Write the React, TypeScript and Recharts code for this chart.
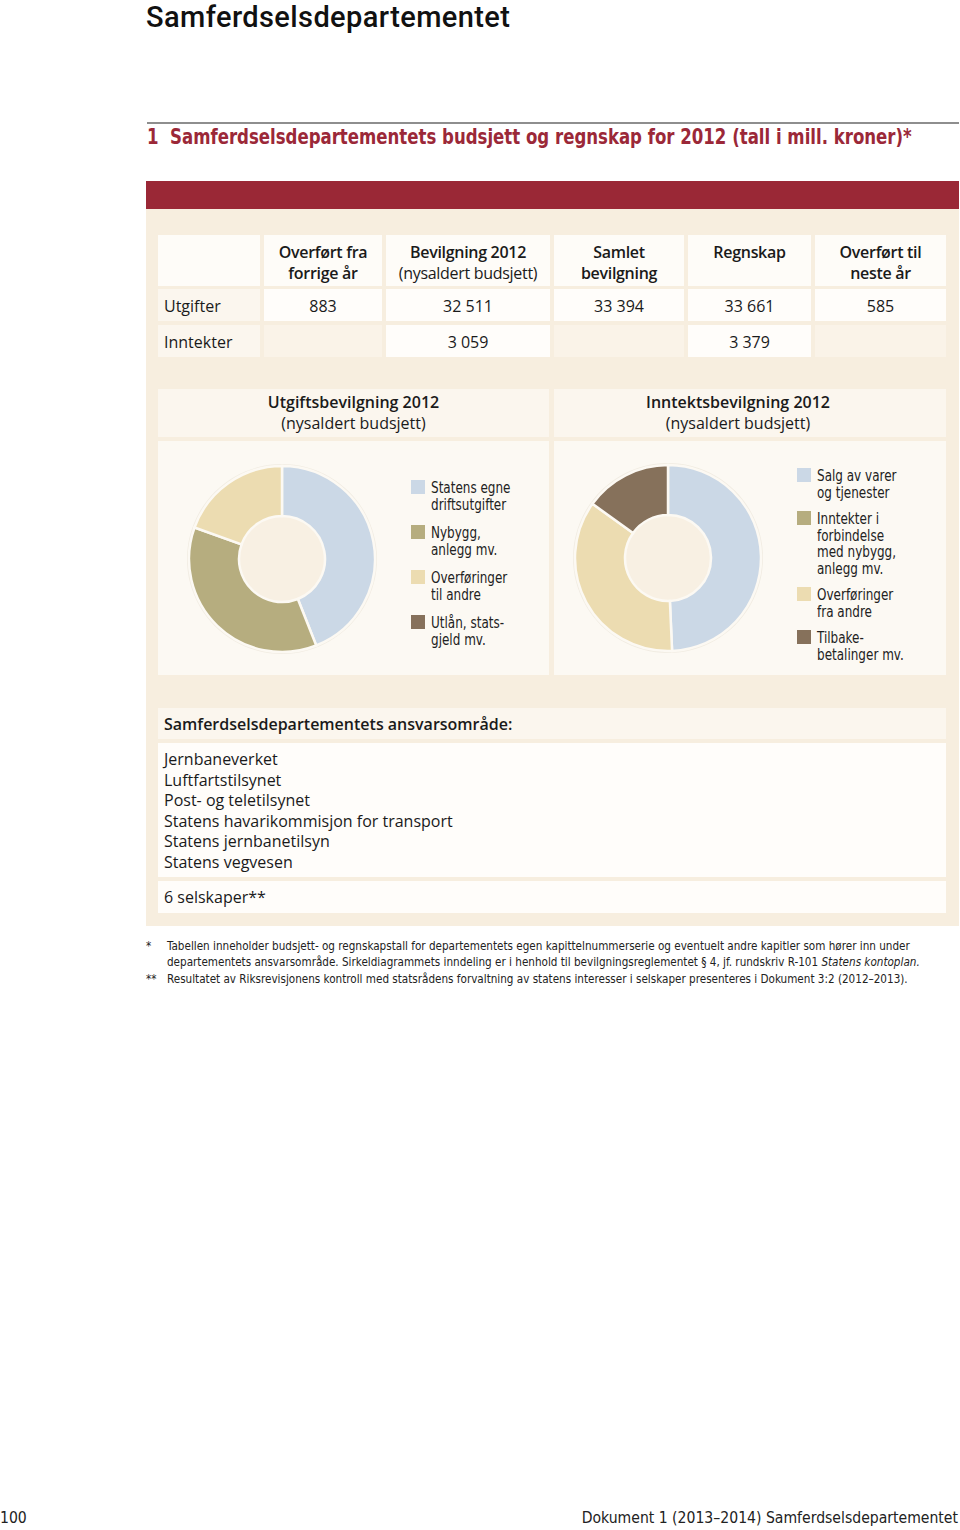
import React from "react";
import { PieChart, Pie, Cell } from "recharts";

const pageTitle = "Samferdselsdepartementet";
const tableTitle = "1  Samferdselsdepartementets budsjett og regnskap for 2012 (tall i mill. kroner)*";

const columnHeads = [
  ["Overført fra", "forrige år"],
  ["Bevilgning 2012", "(nysaldert budsjett)"],
  ["Samlet", "bevilgning"],
  ["Regnskap"],
  ["Overført til", "neste år"],
];
const rowLabels = ["Utgifter", "Inntekter"];
const utgifterRow = ["883", "32 511", "33 394", "33 661", "585"];
const inntekterRow = ["", "3 059", "", "3 379", ""];

const utgiftNames = ["Statens egne\ndriftsutgifter", "Nybygg,\nanlegg mv.", "Overføringer\ntil andre", "Utlån, stats-\ngjeld mv."];
const utgiftValues = [44.0, 36.5, 19.5, 0];
const inntektNames = ["Salg av varer\nog tjenester", "Inntekter i\nforbindelse\nmed nybygg,\nanlegg mv.", "Overføringer\nfra andre", "Tilbake-\nbetalinger mv."];
const inntektValues = [49.3, 0, 35.6, 15.1];
const sliceColors = ["#cbd8e6", "#b6ad7f", "#ecdcb1", "#86715b"];

const ansvarItems = [
  "Jernbaneverket",
  "Luftfartstilsynet",
  "Post- og teletilsynet",
  "Statens havarikommisjon for transport",
  "Statens jernbanetilsyn",
  "Statens vegvesen",
];
const selskaper = "6 selskaper**";

const footnotes = [
  ["*", "Tabellen inneholder budsjett- og regnskapstall for departementets egen kapittelnummerserie og eventuelt andre kapitler som hører inn under"],
  ["", "departementets ansvarsområde. Sirkeldiagrammets inndeling er i henhold til bevilgningsreglementet § 4, jf. rundskriv R-101 "],
  ["**", "Resultatet av Riksrevisjonens kontroll med statsrådens forvaltning av statens interesser i selskaper presenteres i Dokument 3:2 (2012–2013)."],
];

const NARROW = "'DejaVu Sans Condensed', 'Open Sans', sans-serif";
const MAIN = "'Open Sans', 'Noto Sans', sans-serif";

const Box = ({ x, y, w, h, bg, style, children }: any) => (
  <div style={{ position: "absolute", left: x, top: y, width: w, height: h, background: bg, boxSizing: "border-box", ...style }}>
    {children}
  </div>
);

const colX = [264, 386, 554, 688, 815];
const colW = [118, 164, 130, 123, 131];

const LegendBlock = ({ names, left, top, gap }: any) => (
  <div style={{ position: "absolute", left, top, fontFamily: NARROW, fontSize: 15, lineHeight: "16.5px", color: "#222" }}>
    {names.map((n: string, i: number) => (
      <div key={i} style={{ display: "flex", marginBottom: gap }}>
        <div style={{ width: 14, height: 14, background: sliceColors[i], marginTop: 0, marginRight: 6, flexShrink: 0 }} />
        <div style={{ whiteSpace: "pre", transform: "scaleX(0.89)", transformOrigin: "left top" }}>{n}</div>
      </div>
    ))}
  </div>
);

const Donut = ({ names, values, cx, cy }: any) => {
  const data = names.map((n: string, i: number) => ({ name: n, value: values[i] }));
  return (
    <div style={{ position: "absolute", left: 0, top: 0 }}>
      <PieChart width={260} height={234}>
        <Pie data={[{ name: "hole", value: 1 }]} dataKey="value" cx={cx} cy={cy} innerRadius={0} outerRadius={43} fill="#f8f0e3" stroke="none" isAnimationActive={false} />
        <Pie
          data={[{ name: "ring", value: 1 }]}
          dataKey="value"
          cx={cx}
          cy={cy}
          innerRadius={93}
          outerRadius={95}
          fill="#f1ece2"
          stroke="none"
          isAnimationActive={false}
        />
        <Pie
          data={data}
          dataKey="value"
          cx={cx}
          cy={cy}
          innerRadius={43}
          outerRadius={93}
          startAngle={90}
          endAngle={-270}
          stroke="#fcf9f3"
          strokeWidth={2.5}
          isAnimationActive={false}
        >
          {data.map((_: any, i: number) => (
            <Cell key={i} fill={sliceColors[i]} />
          ))}
        </Pie>
      </PieChart>
    </div>
  );
};

export default function App() {
  return (
    <div style={{ position: "absolute", left: 0, top: 0, width: 960, height: 1530, background: "#ffffff", fontFamily: MAIN, color: "#1a1a1a", overflow: "hidden" }}>
      <div style={{ position: "absolute", left: 146, top: 0, fontFamily: "Roboto, 'Open Sans', sans-serif", fontWeight: 500, fontSize: 29, lineHeight: "normal", letterSpacing: 0.4, color: "#111", whiteSpace: "nowrap" }}>{pageTitle}</div>
      <div style={{ position: "absolute", left: 147, top: 122, width: 812, height: 2, background: "#8e8e8e" }} />
      <div style={{ position: "absolute", left: 147, top: 125, fontFamily: NARROW, fontWeight: 700, fontSize: 21, color: "#9b2838", whiteSpace: "pre", transform: "scaleX(0.877)", transformOrigin: "left top" }}>{tableTitle}</div>
      <Box x={146} y={181} w={813} h={28} bg="#9a2836" />
      <Box x={146} y={209} w={813} h={717} bg="#f7eedf" />

      {/* table header row */}
      <Box x={158} y={235} w={102} h={51} bg="#fefcf8" />
      {columnHeads.map((lines, i) => (
        <Box key={i} x={colX[i]} y={235} w={colW[i]} h={51} bg="#fefcf8" style={{ textAlign: "center", fontSize: 16, lineHeight: "21px", paddingTop: 7 }}>
          {lines.map((l, j) => (
            <div key={j} style={{ fontWeight: i === 1 && j === 1 ? 400 : 600, whiteSpace: "nowrap", letterSpacing: -0.3 }}>{l}</div>
          ))}
        </Box>
      ))}
      {/* data rows */}
      {[utgifterRow, inntekterRow].map((row, r) => (
        <React.Fragment key={r}>
          <Box x={158} y={289 + r * 36} w={102} h={32} bg="#fbf6ee" style={{ fontSize: 16, paddingLeft: 6, lineHeight: "34px" }}>{rowLabels[r]}</Box>
          {row.map((v, i) => (
            <Box key={i} x={colX[i]} y={289 + r * 36} w={colW[i]} h={32} bg={v === "" ? "#faf3e8" : "#fffdfa"} style={{ fontSize: 16, textAlign: "center", lineHeight: "34px" }}>{v}</Box>
          ))}
        </React.Fragment>
      ))}

      {/* pie headers */}
      <Box x={158} y={389} w={391} h={48} bg="#fbf6ee" style={{ textAlign: "center", fontSize: 16, lineHeight: "21px", paddingTop: 3 }}>
        <div style={{ fontWeight: 600 }}>Utgiftsbevilgning 2012</div>
        <div>(nysaldert budsjett)</div>
      </Box>
      <Box x={554} y={389} w={392} h={48} bg="#fbf6ee" style={{ textAlign: "center", fontSize: 16, lineHeight: "21px", paddingTop: 3, paddingRight: 24 }}>
        <div style={{ fontWeight: 600 }}>Inntektsbevilgning 2012</div>
        <div>(nysaldert budsjett)</div>
      </Box>

      {/* pie bodies */}
      <Box x={158} y={441} w={391} h={234} bg="#fcf9f3">
        <Donut names={utgiftNames} values={utgiftValues} cx={119} cy={113} />
        <LegendBlock names={utgiftNames} left={253} top={39} gap={12} />
      </Box>
      <Box x={554} y={441} w={392} h={234} bg="#fcf9f3">
        <Donut names={inntektNames} values={inntektValues} cx={109} cy={112} />
        <LegendBlock names={inntektNames} left={243} top={27} gap={10} />
      </Box>

      {/* ansvarsområde */}
      <Box x={158} y={708} w={788} h={31} bg="#fbf6ee" style={{ fontSize: 16, fontWeight: 600, paddingLeft: 6, lineHeight: "32px" }}>Samferdselsdepartementets ansvarsområde:</Box>
      <Box x={158} y={743} w={788} h={134} bg="#fffdfa" style={{ fontSize: 16, paddingLeft: 6, paddingTop: 6, lineHeight: "20.6px" }}>
        {ansvarItems.map((a, i) => (
          <div key={i}>{a}</div>
        ))}
      </Box>
      <Box x={158} y={881} w={788} h={32} bg="#fffdfa" style={{ fontSize: 16, paddingLeft: 6, lineHeight: "33px" }}>{selskaper}</Box>

      {/* footnotes */}
      <div style={{ position: "absolute", left: 146, top: 939, width: 810, fontFamily: NARROW, fontSize: 11.6, lineHeight: "15.5px", color: "#222" }}>
        {footnotes.map(([m, t], i) => (
          <div key={i} style={{ display: "flex", marginTop: i === 2 ? 2 : 0 }}>
            <div style={{ width: 21, flexShrink: 0 }}>{m}</div>
            <div style={{ whiteSpace: "nowrap" }}>
              {t}
              {i === 1 ? <i>Statens kontoplan.</i> : null}
            </div>
          </div>
        ))}
      </div>

      {/* footer */}
      <div style={{ position: "absolute", left: 0, top: 1509, fontFamily: NARROW, fontSize: 15.6, color: "#222" }}>100</div>
      <div style={{ position: "absolute", right: 2, top: 1509, fontFamily: NARROW, fontSize: 15.6, color: "#222", whiteSpace: "nowrap" }}>Dokument 1 (2013–2014) Samferdselsdepartementet</div>
    </div>
  );
}
